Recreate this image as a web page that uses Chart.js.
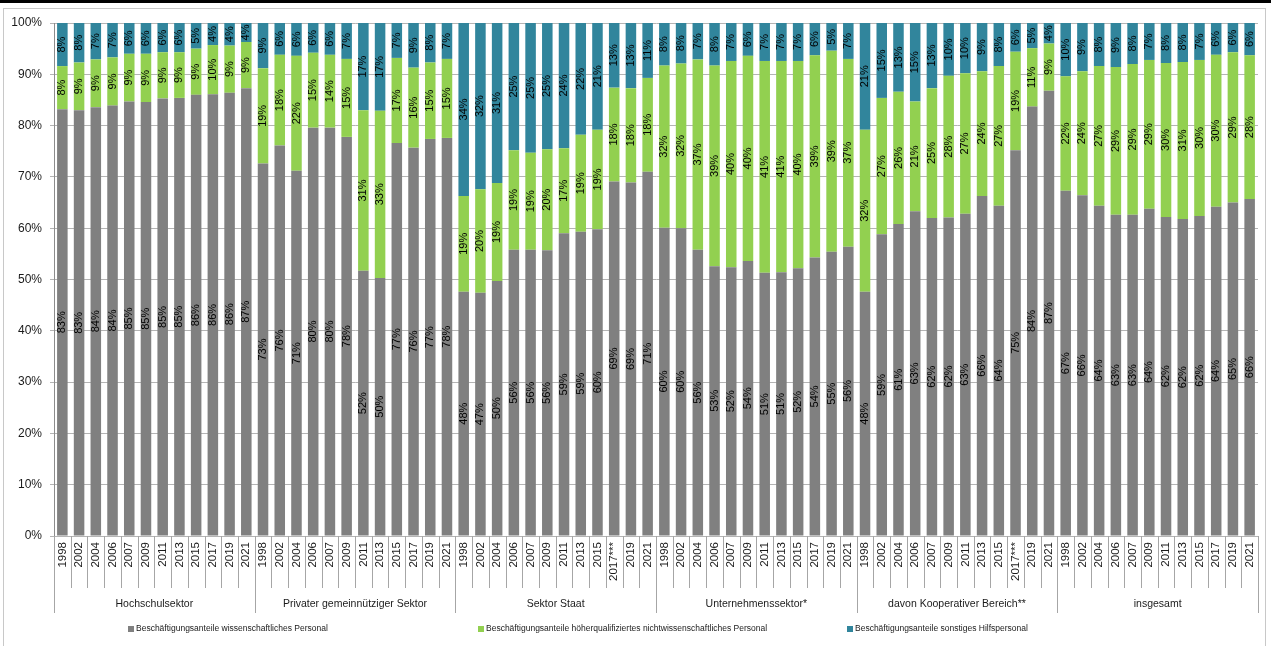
<!DOCTYPE html>
<html lang="de">
<head>
<meta charset="utf-8">
<title>Beschäftigungsanteile nach Sektoren</title>
<script src="https://cdn.jsdelivr.net/npm/chart.js@4.4.1/dist/chart.umd.min.js"></script>
<style>
  html, body { margin: 0; padding: 0; background: #fff; }
  #wrap { position: relative; width: 1271px; height: 646px; overflow: hidden; }
  #topbar { position: absolute; left: 0; top: 0; width: 1271px; height: 3px; background: #000; }
  #frame { position: absolute; left: 3px; top: 8px; width: 1263px; height: 660px; border: 1px solid #c8c8c8; box-sizing: border-box; }
  canvas { position: absolute; left: 0; top: 0; }
</style>
</head>
<body>
<div id="wrap">
  <div id="topbar"></div>
  <div id="frame"></div>
  <canvas id="chart" width="1271" height="646"></canvas>
</div>
<script>
// Sektoren (Gruppen der x-Achse) und Jahre je Sektor
const groupNames = ['Hochschulsektor', 'Privater gemeinnütziger Sektor', 'Sektor Staat',
    'Unternehmenssektor*', 'davon Kooperativer Bereich**', 'insgesamt'];
const years = ['1998', '2002', '2004', '2006', '2007', '2009', '2011', '2013', '2015', '2017', '2019', '2021'];
const yearsRevised = ['1998', '2002', '2004', '2006', '2007', '2009', '2011', '2013', '2015', '2017***', '2019', '2021'];
const groupYears = [years, years, yearsRevised, years, yearsRevised, years];
const labels = groupYears.flat();

// Anteile in %, je Sektor 12 Werte
const wissenschaftlich = [
    83.2, 83.0, 83.6, 83.9, 84.7, 84.6, 85.3, 85.4, 86.0, 86.1, 86.4, 87.3,
    72.6, 76.1, 71.2, 79.6, 79.6, 77.8, 51.7, 50.3, 76.6, 75.7, 77.4, 77.6,
    47.6, 47.4, 49.7, 55.8, 55.8, 55.7, 59.0, 59.3, 59.8, 69.1, 68.9, 71.0,
    60.1, 60.0, 55.8, 52.6, 52.4, 53.6, 51.3, 51.4, 52.2, 54.3, 55.4, 56.4,
    47.6, 58.8, 60.8, 63.3, 62.0, 62.1, 62.8, 66.3, 64.4, 75.2, 83.7, 86.8,
    67.3, 66.4, 64.4, 62.6, 62.6, 63.8, 62.2, 61.8, 62.4, 64.2, 65.0, 65.7
];
const hoeherqualifiziert = [
    8.4, 9.3, 9.3, 9.4, 9.3, 9.4, 9.0, 8.9, 9.0, 9.6, 9.2, 9.0,
    18.6, 17.7, 22.4, 14.6, 14.2, 15.2, 31.3, 32.6, 16.6, 15.6, 14.9, 15.4,
    18.7, 20.2, 19.1, 19.4, 18.9, 19.7, 16.6, 18.9, 19.4, 18.3, 18.4, 18.3,
    31.6, 32.1, 37.1, 39.1, 40.2, 40.0, 41.3, 41.2, 40.4, 39.4, 39.2, 36.6,
    31.6, 26.6, 25.8, 21.4, 25.3, 27.6, 27.4, 24.3, 27.2, 19.2, 11.4, 9.2,
    22.3, 24.2, 27.2, 28.8, 29.4, 29.0, 30.0, 30.6, 30.4, 29.6, 29.3, 28.0
];
const hilfspersonal = [
    8.4, 7.7, 7.1, 6.7, 6.0, 6.0, 5.7, 5.7, 5.0, 4.3, 4.4, 3.7,
    8.8, 6.2, 6.4, 5.8, 6.2, 7.0, 17.0, 17.1, 6.8, 8.7, 7.7, 7.0,
    33.7, 32.4, 31.2, 24.8, 25.3, 24.6, 24.4, 21.8, 20.8, 12.6, 12.7, 10.7,
    8.3, 7.9, 7.1, 8.3, 7.4, 6.4, 7.4, 7.4, 7.4, 6.3, 5.4, 7.0,
    20.8, 14.6, 13.4, 15.3, 12.7, 10.3, 9.8, 9.4, 8.4, 5.6, 4.9, 4.0,
    10.4, 9.4, 8.4, 8.6, 8.0, 7.2, 7.8, 7.6, 7.2, 6.2, 5.7, 6.3
];

const seriesNames = [
    'Beschäftigungsanteile wissenschaftliches Personal',
    'Beschäftigungsanteile höherqualifiziertes nichtwissenschaftliches Personal',
    'Beschäftigungsanteile sonstiges Hilfspersonal'
];
const seriesColors = ['#808080', '#92d050', '#31859c'];

const FONT = "'Liberation Sans', Arial, sans-serif";
Chart.defaults.font.family = FONT;
Chart.defaults.color = '#1a1a1a';

// Prozentwerte senkrecht in die Balkensegmente schreiben
const barLabels = {
    id: 'barLabels',
    afterDatasetsDraw(chart) {
        const ctx = chart.ctx;
        ctx.save();
        ctx.font = '11px ' + FONT;
        ctx.fillStyle = '#000';
        ctx.textAlign = 'center';
        ctx.textBaseline = 'middle';
        chart.data.datasets.forEach((ds, d) => {
            const meta = chart.getDatasetMeta(d);
            meta.data.forEach((bar, i) => {
                const p = bar.getProps(['x', 'y', 'base'], true);
                ctx.save();
                ctx.translate(p.x, (p.y + p.base) / 2);
                ctx.rotate(-Math.PI / 2);
                ctx.fillText(Math.round(ds.data[i]) + '%', 0, 0);
                ctx.restore();
            });
        });
        ctx.restore();
    }
};

// Trennlinien und Sektornamen unter den Jahreszahlen
const groupAxis = {
    id: 'groupAxis',
    afterDraw(chart) {
        const ctx = chart.ctx;
        const x = chart.scales.x;
        const top = x.top;
        const n = labels.length;
        const edge = i => {
            if (i === 0) return x.left;
            if (i === n) return x.right;
            return (x.getPixelForValue(i - 1) + x.getPixelForValue(i)) / 2;
        };
        const groupStarts = [];
        let acc = 0;
        groupYears.forEach(g => { groupStarts.push(acc); acc += g.length; });
        groupStarts.push(acc);

        ctx.save();
        ctx.strokeStyle = '#a6a6a6';
        ctx.lineWidth = 1;
        for (let i = 0; i <= n; i++) {
            const px = Math.round(edge(i)) + 0.5;
            const isGroup = groupStarts.includes(i);
            ctx.beginPath();
            ctx.moveTo(px, top);
            ctx.lineTo(px, top + (isGroup ? 77 : 52));
            ctx.stroke();
        }
        ctx.font = '10.5px ' + FONT;
        ctx.fillStyle = '#1a1a1a';
        ctx.textAlign = 'center';
        ctx.textBaseline = 'middle';
        groupNames.forEach((name, g) => {
            const cx = (edge(groupStarts[g]) + edge(groupStarts[g + 1])) / 2;
            ctx.fillText(name, cx, top + 68);
        });
        ctx.restore();
    }
};

// Legende wie im Original: kleine Quadrate, ungleichmäßig verteilt
const legendX = [128, 478, 847];
const bottomLegend = {
    id: 'bottomLegend',
    afterDraw(chart) {
        const ctx = chart.ctx;
        const y = 629;
        ctx.save();
        ctx.font = '8.5px ' + FONT;
        ctx.textBaseline = 'middle';
        ctx.textAlign = 'left';
        chart.data.datasets.forEach((ds, d) => {
            ctx.fillStyle = ds.backgroundColor;
            ctx.fillRect(legendX[d], y - 3, 6, 6);
            ctx.fillStyle = '#1a1a1a';
            ctx.fillText(ds.label, legendX[d] + 8, y);
        });
        ctx.restore();
    }
};

const seriesData = [wissenschaftlich, hoeherqualifiziert, hilfspersonal];

new Chart(document.getElementById('chart'), {
    type: 'bar',
    data: {
        labels: labels,
        datasets: seriesData.map((values, k) => ({
            label: seriesNames[k],
            data: values,
            backgroundColor: seriesColors[k],
            borderWidth: 0,
            barPercentage: 0.63,
            categoryPercentage: 1.0
        }))
    },
    options: {
        responsive: false,
        animation: false,
        devicePixelRatio: 1,
        layout: { padding: { left: 10, top: 23, right: 13, bottom: 33 } },
        plugins: {
            legend: { display: false },
            tooltip: { enabled: false }
        },
        scales: {
            x: {
                stacked: true,
                offset: true,
                grid: { display: false, drawTicks: false },
                border: { display: false },
                ticks: {
                    autoSkip: false,
                    minRotation: 90,
                    maxRotation: 90,
                    padding: 6,
                    font: { size: 11.5 },
                    color: '#1a1a1a'
                },
                afterFit(scale) { scale.height = 77; }
            },
            y: {
                stacked: true,
                min: 0,
                max: 100,
                grid: { color: '#b4b4b4', tickLength: 4 },
                border: { color: '#8c8c8c' },
                ticks: {
                    stepSize: 10,
                    padding: 8,
                    font: { size: 12 },
                    color: '#1a1a1a',
                    callback: v => v + '%'
                },
                afterFit(scale) { scale.width = 44; }
            }
        }
    },
    plugins: [barLabels, groupAxis, bottomLegend]
});
</script>
</body>
</html>
